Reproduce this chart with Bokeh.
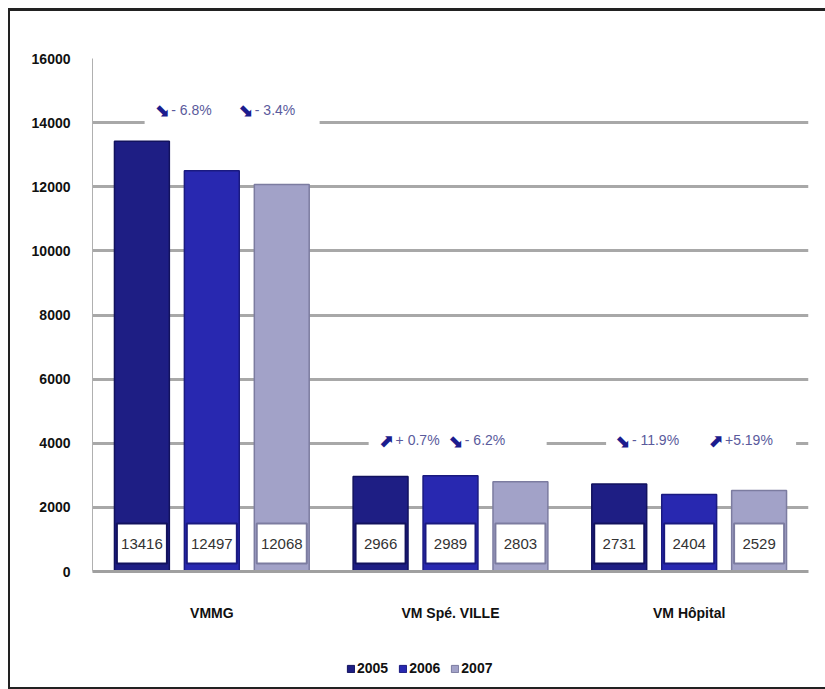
from bokeh.plotting import figure
from bokeh.layouts import column
from bokeh.models import (ColumnDataSource, FactorRange, Range1d, Legend, LegendItem,
                          InlineStyleSheet, FixedTicker)
from bokeh.transform import dodge
from bokeh.core.properties import value
from bokeh.embed import file_html
from bokeh.resources import INLINE

# ---------------- data ----------------
categories = ["VMMG", "VM Spé. VILLE", "VM Hôpital"]
years = ["2005", "2006", "2007"]
v2005 = [13416, 2966, 2731]
v2006 = [12497, 2989, 2404]
v2007 = [12068, 2803, 2529]
y_ticks = [0, 2000, 4000, 6000, 8000, 10000, 12000, 14000, 16000]

ann_cat = ["VMMG", "VMMG", "VM Spé. VILLE", "VM Spé. VILLE", "VM Hôpital", "VM Hôpital"]
ann_text = ["- 6.8%", "- 3.4%", "+ 0.7%", "- 6.2%", "- 11.9%", "+5.19%"]
ann_up = [False, False, True, False, False, True]

# ---------------- layout / style ----------------
FONT = "Liberation Sans"
colors = ["#1e1e84", "#2828b0", "#a2a2c8"]
edge = ["#12125e", "#1a1a80", "#7c7ca0"]
bar_off = [-0.293, 0.0, 0.293]
ann_xoff = [-0.17, 0.18, -0.23, 0.06, -0.24, 0.15]
ann_y = {"VMMG": 14400, "VM Spé. VILLE": 4100, "VM Hôpital": 4100}
gap_off = {"VMMG": 0.085, "VM Spé. VILLE": 0.03, "VM Hôpital": 0.05}
gap_w = {"VMMG": 175, "VM Spé. VILLE": 178, "VM Hôpital": 190}
LABEL_Y = 870

src = ColumnDataSource(dict(
    cat=categories,
    y2005=v2005, y2006=v2006, y2007=v2007,
    t2005=[str(v) for v in v2005],
    t2006=[str(v) for v in v2006],
    t2007=[str(v) for v in v2007],
))

p = figure(x_range=FactorRange(*categories), y_range=Range1d(0, 16000),
           frame_width=716, frame_height=513, output_backend="svg", toolbar_location=None,
           min_border_left=92, min_border_right=17, min_border_top=58,
           min_border_bottom=69)
p.outline_line_color = None
p.background_fill_color = "white"
p.border_fill_color = "white"

# grid
p.xgrid.grid_line_color = None
p.ygrid.grid_line_color = "#a8a8a8"
p.ygrid.grid_line_width = 3
p.yaxis.ticker = FixedTicker(ticks=y_ticks)

# y axis
p.yaxis.axis_line_color = "#b0b0b0"
p.yaxis.axis_line_width = 1
p.yaxis.major_tick_line_color = None
p.yaxis.minor_tick_line_color = None
p.yaxis.major_label_standoff = 16
p.yaxis.major_label_text_font = FONT
p.yaxis.major_label_text_font_style = "bold"
p.yaxis.major_label_text_font_size = "14px"
p.yaxis.major_label_text_color = "#111111"

# x axis
p.xaxis.axis_line_color = "#a0a0a0"
p.xaxis.axis_line_width = 3
p.xaxis.major_tick_line_color = None
p.xaxis.minor_tick_line_color = None
p.xaxis.major_label_standoff = 27
p.xaxis.major_label_text_font = FONT
p.xaxis.major_label_text_font_style = "bold"
p.xaxis.major_label_text_font_size = "14px"
p.xaxis.major_label_text_color = "#111111"

# white gaps behind the change annotations
for c in categories:
    gsrc = ColumnDataSource(dict(cat=[c], y=[ann_y[c]]))
    p.rect(x=dodge("cat", gap_off[c], range=p.x_range), y="y", source=gsrc,
           width=gap_w[c], width_units="screen", height=34, height_units="screen",
           fill_color="white", line_color=None)

# bars
for i, yr in enumerate(years):
    p.vbar(x=dodge("cat", bar_off[i], range=p.x_range), top="y" + yr, width=0.23,
           source=src, fill_color=colors[i], line_color=edge[i], line_width=1.5)
    p.rect(x=dodge("cat", bar_off[i], range=p.x_range), y=LABEL_Y, source=src,
           width=50, width_units="screen", height=40, height_units="screen",
           fill_color="white", line_color=edge[i], line_width=2)
    p.text(x=dodge("cat", bar_off[i], range=p.x_range), y=LABEL_Y, text="t" + yr,
           source=src, text_align="center", text_baseline="middle",
           text_font=value(FONT), text_font_size="15px", text_color="#333333")

# change annotations
for i in range(len(ann_text)):
    c = ann_cat[i]
    asrc = ColumnDataSource(dict(cat=[c], y=[ann_y[c]], t=[ann_text[i]],
                                 a=["\u2b08" if ann_up[i] else "\u2b0a"]))
    xx = dodge("cat", ann_xoff[i], range=p.x_range)
    p.text(x=xx, y="y", text="t", source=asrc, text_align="left",
           text_baseline="middle", text_font=value(FONT), text_font_size="14px",
           text_color="#5a5a9c")
    p.text(x=xx, y="y", text="a", source=asrc, text_align="right", x_offset=-2,
           text_baseline="middle", text_font=value("DejaVu Sans"),
           text_font_size="18px", text_font_style="bold", text_color="#1c1c8e")

# legend strip below the chart (swatch renderers sit outside the visible range)
lf = figure(width=825, height=49, x_range=Range1d(0, 1), y_range=Range1d(0, 1),
            output_backend="svg", toolbar_location=None,
            x_axis_location=None, y_axis_location=None,
            min_border=0)
lf.outline_line_color = None
lf.grid.grid_line_color = None
lf.background_fill_color = "white"
lf.border_fill_color = "white"
lsrc = ColumnDataSource(dict(x=[-10.0], top=[-10.0]))
lrs = []
for i, yr in enumerate(years):
    lrs.append(lf.vbar(x="x", top="top", width=0.1, source=lsrc,
                       fill_color=colors[i], line_color=edge[i]))
legend = Legend(items=[LegendItem(label=yr, renderers=[lrs[i]]) for i, yr in enumerate(years)],
                orientation="horizontal", location=(254, 13),
                glyph_width=9, glyph_height=9, label_standoff=2, spacing=10,
                padding=0, margin=0, border_line_color=None,
                background_fill_alpha=0,
                label_text_font=FONT, label_text_font_style="bold",
                label_text_font_size="14px", label_text_color="#111111")
lf.add_layout(legend, "center")

layout = column(p, lf, spacing=0)
layout.stylesheets = [InlineStyleSheet(css=(
    ":host::after{content:'';position:absolute;left:8px;top:8px;width:817px;height:681px;"
    "border-left:2px solid #222;border-top:3px solid #222;border-bottom:2px solid #222;"
    "box-sizing:border-box;pointer-events:none;}"))]

open("out.html", "w").write(file_html(layout, INLINE))
